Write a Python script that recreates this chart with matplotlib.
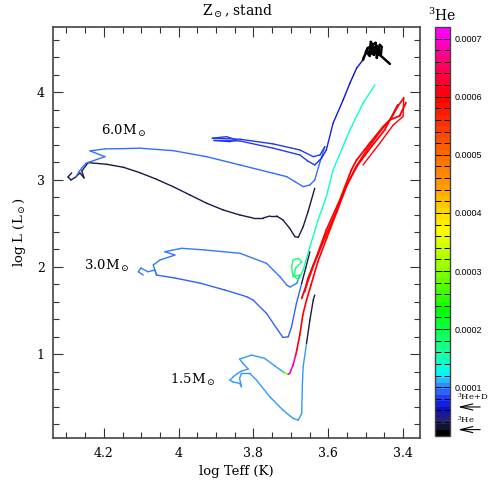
import numpy as np
import matplotlib
matplotlib.use("Agg")
import matplotlib.pyplot as plt
from matplotlib.collections import LineCollection
from matplotlib.colors import LinearSegmentedColormap, Normalize
from matplotlib.cm import ScalarMappable
from matplotlib.ticker import MultipleLocator, FuncFormatter

# ------------------------------------------
# DATA  (log Teff, log L, surface 3He)
# ------------------------------------------
# 6.0 Msun, first track (dark, low 3He)
m6_dark_T = [4.286, 4.296, 4.288, 4.275, 4.264, 4.253, 4.259, 4.242, 4.193, 4.148, 4.104, 4.059,
             4.015, 3.970, 3.925, 3.881, 3.836, 3.801, 3.774, 3.756, 3.738, 3.721, 3.703, 3.689,
             3.680, 3.667, 3.654, 3.636]
m6_dark_L = [3.076, 3.030, 2.995, 3.030, 3.076, 3.018, 3.098, 3.194, 3.175, 3.141, 3.079, 3.003,
             2.919, 2.824, 2.729, 2.652, 2.594, 2.560, 2.560, 2.583, 2.583, 2.537, 2.442, 2.346,
             2.339, 2.460, 2.632, 2.900]
m6_dark_he3 = 3.2e-5

# 6.0 Msun, second track (azure)
m6_ms_T = [4.275, 4.267, 4.259, 4.248, 4.197, 4.237, 4.197, 4.148, 4.104, 4.015, 3.925, 3.836,
           3.747, 3.711, 3.689, 3.667, 3.649, 3.636, 3.622, 3.609]
m6_ms_L = [3.030, 3.087, 3.133, 3.187, 3.262, 3.328, 3.351, 3.354, 3.359, 3.331, 3.262, 3.167,
           3.072, 3.033, 2.976, 2.919, 2.938, 2.995, 3.202, 3.377]
m6_ms_he3 = 9.2e-5

# 6.0 Msun, blue loop and AGB
m6_loop_T = [3.609, 3.622, 3.640, 3.676, 3.747, 3.836, 3.910, 3.872, 3.845, 3.863, 3.906, 3.836,
             3.747, 3.676, 3.655, 3.636, 3.618, 3.605, 3.587, 3.560, 3.542, 3.524, 3.507]
m6_loop_L = [3.377, 3.282, 3.262, 3.339, 3.408, 3.462, 3.473, 3.491, 3.454, 3.434, 3.448, 3.442,
             3.359, 3.282, 3.213, 3.167, 3.244, 3.339, 3.645, 3.912, 4.103, 4.275, 4.370]
m6_loop_he3 = [7.8e-5, 7.8e-5, 7.8e-5, 7.8e-5, 7.8e-5, 7.8e-5, 7.8e-5, 7.8e-5, 7.8e-5, 7.8e-5,
               7.8e-5, 7.8e-5, 7.8e-5, 7.8e-5, 7.8e-5, 7.8e-5, 7.5e-5, 7.2e-5, 6.8e-5, 6.5e-5,
               6.3e-5, 6.1e-5, 6.0e-5]

# 6.0 Msun, thermal pulses (black clump)
m6_tp_T = [3.507, 3.505, 3.494, 3.499, 3.489, 3.486, 3.483, 3.478, 3.489, 3.473, 3.470, 3.467,
           3.462, 3.457, 3.459, 3.475, 3.491, 3.481, 3.465, 3.467, 3.478, 3.470, 3.484, 3.462,
           3.472, 3.460, 3.435]
m6_tp_L = [4.370, 4.393, 4.507, 4.462, 4.416, 4.576, 4.553, 4.427, 4.519, 4.565, 4.393, 4.462,
           4.542, 4.519, 4.439, 4.485, 4.462, 4.519, 4.496, 4.427, 4.480, 4.530, 4.440, 4.470,
           4.500, 4.420, 4.324]
m6_tp_he3 = 1.6e-5

# 3.0 Msun, upper track (azure)
m3_ms_T = [4.095, 4.108, 4.101, 4.082, 4.064, 4.059, 4.068, 4.050, 4.010, 4.037, 3.992, 3.930,
           3.836, 3.765, 3.729, 3.711, 3.702, 3.684, 3.676]
m3_ms_L = [1.907, 1.945, 1.987, 1.945, 1.964, 1.907, 2.022, 2.079, 2.136, 2.174, 2.213, 2.194,
           2.156, 2.041, 1.888, 1.793, 1.770, 1.812, 1.907]
m3_ms_he3 = 9.4e-5

# 3.0 Msun, lower track (blue) and its dark tail
m3_low_T = [4.059, 4.010, 3.943, 3.876, 3.818, 3.801, 3.765, 3.738, 3.721, 3.707, 3.698, 3.685, 3.671]
m3_low_L = [1.907, 1.873, 1.815, 1.735, 1.659, 1.621, 1.468, 1.297, 1.193, 1.200, 1.315, 1.583, 1.812]
m3_low_he3 = 8.8e-5
m3_tail_T = [3.671, 3.660, 3.649]
m3_tail_L = [1.812, 1.990, 2.174]
m3_tail_he3 = 3.2e-5

# 3.0 Msun, giant branch (green)
m3_rgb_T = [3.676, 3.694, 3.698, 3.694, 3.680, 3.671, 3.687, 3.692, 3.680, 3.667, 3.649, 3.627,
            3.605, 3.587, 3.542, 3.507, 3.475]
m3_rgb_L = [1.907, 1.888, 2.002, 2.079, 2.098, 2.060, 1.987, 1.896, 1.850, 1.964, 2.231, 2.537,
            2.804, 3.110, 3.567, 3.874, 4.084]
m3_rgb_he3 = [1.8e-4, 1.8e-4, 1.8e-4, 1.8e-4, 1.8e-4, 1.8e-4, 1.8e-4, 1.8e-4, 1.7e-4,
              1.6e-4, 1.5e-4, 1.45e-4, 1.42e-4, 1.4e-4, 1.4e-4, 1.4e-4, 1.4e-4]

# red giant bundle
m3_red_T = [3.663, 3.654, 3.631, 3.605, 3.569, 3.538, 3.524, 3.489, 3.453, 3.435, 3.409, 3.392]
m3_red_L = [1.716, 1.869, 2.117, 2.423, 2.766, 3.110, 3.224, 3.416, 3.606, 3.683, 3.729, 3.881]
m3_red2_T = [3.671, 3.658, 3.639, 3.615, 3.582, 3.550, 3.521, 3.483, 3.449, 3.414]
m3_red2_L = [1.640, 1.793, 2.022, 2.274, 2.594, 2.938, 3.167, 3.385, 3.568, 3.855]
m3_red3_T = [3.507, 3.462, 3.426, 3.400, 3.398]
m3_red3_L = [3.167, 3.416, 3.625, 3.721, 3.935]
red_he3 = 6.0e-4

# 1.5 Msun, azure track and dark tail
m15_ms_T = [3.721, 3.743, 3.770, 3.805, 3.837, 3.828, 3.814, 3.832, 3.845, 3.854, 3.863, 3.854,
            3.837, 3.832, 3.837, 3.832, 3.810, 3.792, 3.756, 3.721, 3.694, 3.680, 3.671, 3.669,
            3.667, 3.658]
m15_ms_L = [0.800, 0.867, 0.953, 0.991, 0.945, 0.896, 0.831, 0.808, 0.773, 0.742, 0.704, 0.682,
            0.667, 0.628, 0.727, 0.782, 0.782, 0.705, 0.513, 0.361, 0.266, 0.246, 0.323, 0.667,
            0.857, 1.125]
m15_ms_he3 = 1.02e-4
m15_tail_T = [3.658, 3.649, 3.640, 3.636]
m15_tail_L = [1.125, 1.392, 1.621, 1.678]
m15_tail_he3 = 3.2e-5

# 1.5 Msun, giant branch (3He enriched)
m15_rgb_T = [3.721, 3.714, 3.707, 3.703, 3.694, 3.687, 3.684, 3.676, 3.668, 3.658, 3.646, 3.628,
             3.604, 3.577, 3.551, 3.526, 3.497, 3.462, 3.431, 3.413, 3.398]
m15_rgb_L = [0.800, 0.782, 0.771, 0.782, 0.876, 0.991, 1.048, 1.220, 1.449, 1.621, 1.793, 2.056,
             2.331, 2.629, 2.927, 3.144, 3.339, 3.545, 3.706, 3.843, 3.935]
m15_rgb_he3 = [1.0e-4, 2.5e-4, 4.0e-4, 7.1e-4, 7.0e-4, 6.6e-4, 6.1e-4, 6.0e-4, 6.0e-4, 6.0e-4,
               6.0e-4, 6.0e-4, 6.0e-4, 6.0e-4, 6.0e-4, 6.0e-4, 6.0e-4, 6.0e-4, 6.0e-4, 6.0e-4, 6.0e-4]

mass_labels = [r"6.0M$_\odot$", r"3.0M$_\odot$", r"1.5M$_\odot$"]
label_T = [4.147, 4.192, 3.962]
label_L = [3.556, 2.010, 0.706]

cbar_ticks = [1e-4, 2e-4, 3e-4, 4e-4, 5e-4, 6e-4, 7e-4]
init_marks = [r"$^3$He+D", r"$^3$He"]
init_values = [6.6e-5, 2.7e-5]

# ------------------------------------------
# COLOUR SCALE
# ------------------------------------------
he3_min, he3_max = 1.6e-5, 7.2e-4
anchor_vals = [1.6e-5, 2.2e-5, 3.5e-5, 6.0e-5, 7.5e-5, 9.0e-5, 1.05e-4, 1.2e-4, 1.6e-4, 2.3e-4,
               3.0e-4, 3.7e-4, 4.5e-4, 5.2e-4, 6.0e-4, 6.5e-4, 7.2e-4]
anchor_cols = [(0, 0, 0), (0.03, 0.03, 0.12), (0.15, 0.15, 0.38), (0.05, 0.05, 0.8),
               (0.12, 0.2, 0.95), (0.2, 0.42, 1.0), (0.2, 0.65, 1.0), (0, 1, 1), (0.1, 1, 0.6),
               (0, 1, 0), (0.55, 1, 0), (1, 1, 0), (1, 0.6, 0), (1, 0.35, 0), (1, 0, 0),
               (1, 0, 0.3), (1, 0, 1)]
pos = [(v - he3_min) / (he3_max - he3_min) for v in anchor_vals]
cmap = LinearSegmentedColormap.from_list("he3", list(zip(pos, anchor_cols)))
cmap_bar = cmap.resampled(70)
norm = Normalize(he3_min, he3_max)

plt.rcParams["font.family"] = ["DejaVu Serif"]
plt.rcParams["mathtext.fontset"] = "dejavuserif"

fig = plt.figure(figsize=(4.91, 4.91), dpi=100)
ax = fig.add_axes([0.108, 0.1073, 0.747, 0.838])
cax = fig.add_axes([0.886, 0.112, 0.0305, 0.833])


def draw_track(T, L, he3, lw=1.0):
    pts = np.column_stack([T, L])
    segs = np.stack([pts[:-1], pts[1:]], axis=1)
    v = np.broadcast_to(np.asarray(he3, float), (len(T),))
    lc = LineCollection(segs, cmap=cmap, norm=norm, linewidths=lw, capstyle="round")
    lc.set_array(0.5 * (v[:-1] + v[1:]))
    ax.add_collection(lc)


draw_track(m6_dark_T, m6_dark_L, m6_dark_he3)
draw_track(m6_ms_T, m6_ms_L, m6_ms_he3)
draw_track(m6_loop_T, m6_loop_L, m6_loop_he3)
draw_track(m6_tp_T, m6_tp_L, m6_tp_he3, lw=1.8)
draw_track(m3_ms_T, m3_ms_L, m3_ms_he3)
draw_track(m3_low_T, m3_low_L, m3_low_he3)
draw_track(m3_tail_T, m3_tail_L, m3_tail_he3)
draw_track(m3_rgb_T, m3_rgb_L, m3_rgb_he3)
draw_track(m3_red_T, m3_red_L, red_he3, lw=1.3)
draw_track(m3_red2_T, m3_red2_L, red_he3, lw=1.3)
draw_track(m3_red3_T, m3_red3_L, red_he3)
draw_track(m15_ms_T, m15_ms_L, m15_ms_he3)
draw_track(m15_tail_T, m15_tail_L, m15_tail_he3)
draw_track(m15_rgb_T, m15_rgb_L, m15_rgb_he3, lw=1.2)

for txt, t, l in zip(mass_labels, label_T, label_L):
    ax.text(t, l, txt, ha="center", va="center", fontsize=9.5)

ax.set_xlim(4.336, 3.355)
ax.set_ylim(0.038, 4.748)
ax.xaxis.set_major_locator(MultipleLocator(0.2))
ax.xaxis.set_minor_locator(MultipleLocator(0.05))
ax.yaxis.set_major_locator(MultipleLocator(1))
ax.yaxis.set_minor_locator(MultipleLocator(0.2))
ax.xaxis.set_major_formatter(FuncFormatter(lambda v, _: f"{round(v, 2):g}"))
ax.tick_params(which="both", direction="in", top=True, right=True, width=0.8, color="#333333")
ax.tick_params(which="major", length=7, labelsize=9, pad=6)
ax.tick_params(which="minor", length=4)
for s in ax.spines.values():
    s.set_color("#444444")
    s.set_linewidth(1.2)
ax.set_xlabel("log Teff (K)", fontsize=9.5, labelpad=4)
ax.set_ylabel(r"log L (L$_\odot$)", fontsize=9.5, labelpad=6)
fig.text(0.483, 0.976, r"Z$_\odot$, stand", ha="center", va="center", fontsize=10)

# colour bar
cb = fig.colorbar(ScalarMappable(norm=norm, cmap=cmap_bar), cax=cax)
cb.set_ticks(cbar_ticks)
cb.ax.yaxis.set_minor_locator(MultipleLocator(2e-5))
cb.ax.yaxis.set_major_formatter(FuncFormatter(lambda v, _: f"{v:.4f}"))
cax.tick_params(which="both", direction="in", left=True, right=True, length=4, width=0.7)
cax.tick_params(which="major", length=5, labelsize=6.5, pad=3)
for lab in cax.get_yticklabels():
    lab.set_family("Liberation Sans")
cb.outline.set_edgecolor("#444444")
cb.outline.set_linewidth(1.0)
cax.text(0.5, 1.008, r"$^3$He", transform=cax.transAxes, ha="center", va="bottom", fontsize=10)

for txt, v in zip(init_marks, init_values):
    cax.annotate("", xy=(1.35, v), xytext=(3.2, v), xycoords=("axes fraction", "data"),
                 annotation_clip=False,
                 arrowprops=dict(arrowstyle="->, head_length=0.9, head_width=0.22", lw=0.8, color="black"))
    cax.text(1.45, v + 1.6e-5, txt, transform=cax.get_yaxis_transform(), ha="left", va="center",
             fontsize=6)

fig.savefig("out.png", dpi=100)
